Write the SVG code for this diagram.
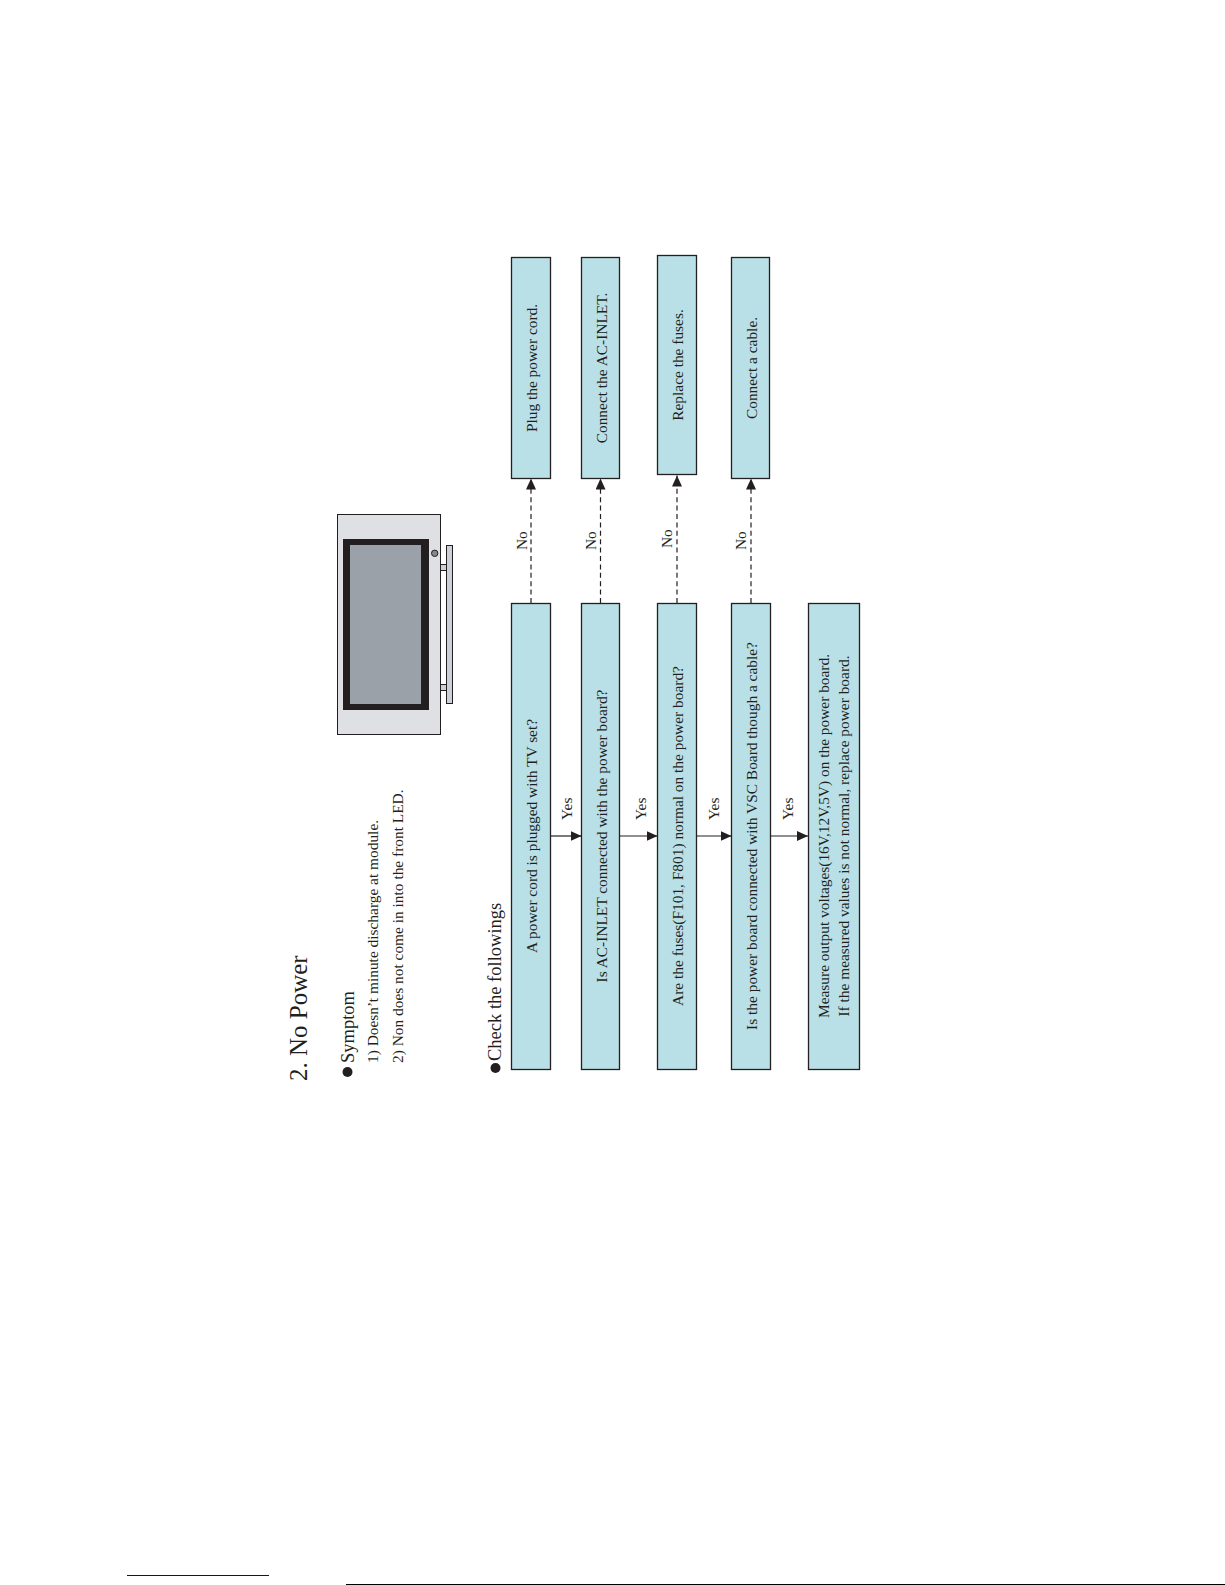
<svg xmlns="http://www.w3.org/2000/svg" width="1225" height="1585" viewBox="0 0 1225 1585">
<style>
text{font-family:"Liberation Serif","Times New Roman",serif;fill:#231f20;font-size:15.4px}
.box{fill:#b9e0e7;stroke:#231f20;stroke-width:1.3}
.c{text-anchor:middle}
.yes{stroke:#231f20;stroke-width:1.2;fill:none}
.no{stroke:#231f20;stroke-width:1.2;fill:none;stroke-dasharray:5 3.4}
</style>
<defs><marker id="a" markerUnits="userSpaceOnUse" markerWidth="12" markerHeight="10" refX="11" refY="5" orient="auto"><path d="M0 0L11 5L0 10Z" fill="#231f20"/></marker></defs>
<rect width="1225" height="1585" fill="#fff"/>
<g id="tv">
<rect x="337.5" y="514.5" width="103" height="220" fill="#dfe0e4" stroke="#231f20" stroke-width="1"/>
<rect x="343" y="539" width="86" height="171" fill="#231f20"/>
<rect x="350" y="545" width="71" height="159" fill="#9aa1a8"/>
<circle cx="434.7" cy="553.3" r="3.2" fill="#84888d" stroke="#231f20"/>
<rect x="440.5" y="564.5" width="6" height="6" fill="#cdcfd8" stroke="#231f20" stroke-width="1"/>
<rect x="440.5" y="684.5" width="6" height="6" fill="#cdcfd8" stroke="#231f20" stroke-width="1"/>
<rect x="446.5" y="545.5" width="6" height="158" fill="#cdcfd8" stroke="#231f20" stroke-width="1"/>
</g>
<g id="title">
<text transform="translate(307,1081) rotate(-90)" style="font-size:25px">2. No Power</text>
<circle cx="347.5" cy="1072" r="5" fill="#231f20"/>
<text transform="translate(354,1063) rotate(-90)" style="font-size:18.5px">Symptom</text>
<text transform="translate(378,1063) rotate(-90)">1) Doesn’t minute discharge at module.</text>
<text transform="translate(403,1063) rotate(-90)">2) Non does not come in into the front LED.</text>
<circle cx="495.5" cy="1068" r="5" fill="#231f20"/>
<text transform="translate(501,1061) rotate(-90)" style="font-size:18.5px">Check the followings</text>
</g>
<g id="connectors">
<path class="yes" marker-end="url(#a)" d="M551 836H581.5"/>
<path class="yes" marker-end="url(#a)" d="M620 836H657.5"/>
<path class="yes" marker-end="url(#a)" d="M696.5 836H731.5"/>
<path class="yes" marker-end="url(#a)" d="M770 836H808"/>
<path class="no" marker-end="url(#a)" d="M531 603V478.5"/>
<path class="no" marker-end="url(#a)" d="M600.5 603V478.5"/>
<path class="no" marker-end="url(#a)" d="M677 603V475.5"/>
<path class="no" marker-end="url(#a)" d="M751 603V478.5"/>
</g>
<g id="labels">
<text transform="translate(527,550) rotate(-90)">No</text>
<text transform="translate(596,550) rotate(-90)">No</text>
<text transform="translate(672,548) rotate(-90)">No</text>
<text transform="translate(746,550) rotate(-90)">No</text>
<text transform="translate(572,820) rotate(-90)">Yes</text>
<text transform="translate(646,820) rotate(-90)">Yes</text>
<text transform="translate(719,820) rotate(-90)">Yes</text>
<text transform="translate(793,820) rotate(-90)">Yes</text>
</g>
<g id="q1"><rect class="box" x="511.5" y="603.5" width="39" height="466"/><text class="c" transform="translate(537,836) rotate(-90)">A power cord is plugged with TV set?</text></g>
<g id="q2"><rect class="box" x="581.5" y="603.5" width="38" height="466"/><text class="c" transform="translate(607,836) rotate(-90)">Is AC-INLET connected with the power board?</text></g>
<g id="q3"><rect class="box" x="657.5" y="603.5" width="39" height="466"/><text class="c" transform="translate(683,836) rotate(-90)">Are the fuses(F101, F801) normal on the power board?</text></g>
<g id="q4"><rect class="box" x="731.5" y="603.5" width="39" height="466"/><text class="c" transform="translate(757,836) rotate(-90)">Is the power board connected with VSC Board though a cable?</text></g>
<g id="q5"><rect class="box" x="808.5" y="603.5" width="51" height="466"/><text class="c" transform="translate(829,836) rotate(-90)">Measure output voltages(16V,12V,5V) on the power board.</text><text class="c" transform="translate(849,836) rotate(-90)">If the measured values is not normal, replace power board.</text></g>
<g id="a1"><rect class="box" x="511.5" y="257.5" width="39" height="221"/><text class="c" transform="translate(537,368) rotate(-90)">Plug the power cord.</text></g>
<g id="a2"><rect class="box" x="581.5" y="257.5" width="38" height="221"/><text class="c" transform="translate(607,368) rotate(-90)">Connect the AC-INLET.</text></g>
<g id="a3"><rect class="box" x="657.5" y="255.5" width="39" height="219"/><text class="c" transform="translate(683,365) rotate(-90)">Replace the fuses.</text></g>
<g id="a4"><rect class="box" x="731.5" y="257.5" width="38" height="221"/><text class="c" transform="translate(757,368) rotate(-90)">Connect a cable.</text></g>
<rect x="127" y="1575" width="142" height="1" fill="#0000c8"/>
<rect x="0" y="1584" width="1225" height="1" fill="#000" opacity=".0"/>
<path d="M346 1584.5H1225" stroke="#000" stroke-width="1"/>
</svg>
